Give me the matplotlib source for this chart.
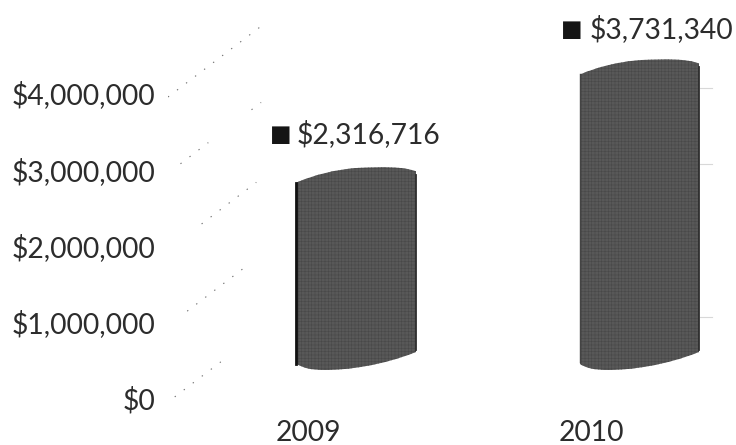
import matplotlib
matplotlib.use("Agg")
import matplotlib.pyplot as plt
from matplotlib.path import Path
from matplotlib.patches import PathPatch

years = ["2009", "2010"]
revenue = [2316716, 3731340]
y_ticks = [0, 1000000, 2000000, 3000000, 4000000]
y_labels = ["$0", "$1,000,000", "$2,000,000", "$3,000,000", "$4,000,000"]
value_labels = ["$2,316,716", "$3,731,340"]

W, H = 736, 445
AX_L, AX_B = 168, 398            # pixel position of the axes origin
PX_PER_UNIT_X = 283.0
PX_PER_M = 76.25

plt.rcParams["font.family"] = ["Lato", "DejaVu Sans"]
plt.rcParams["hatch.linewidth"] = 0.4
TEXT = "#2c2c2c"
FS = 20.3

fig = plt.figure(figsize=(W / 100, H / 100), dpi=100, facecolor="white")
ax = fig.add_axes([AX_L / W, (H - AX_B) / H, (W - AX_L) / W, AX_B / H])
ax.set_facecolor("none")
xmin = -140 / PX_PER_UNIT_X
ax.set_xlim(xmin, xmin + (W - AX_L) / PX_PER_UNIT_X)
ax.set_ylim(0, AX_B / PX_PER_M * 1e6)

dx = lambda px: px / PX_PER_UNIT_X
dy = lambda px: px / PX_PER_M * 1e6

# sparse remains of the receding gridlines, as fractions of each line
visible = {
    0: [(0.07, 0.55)],
    1: [(0.2, 0.78)],
    2: [(0.35, 0.92)],
    3: [(0.13, 0.42), (0.87, 0.97)],
    4: [(0.0, 1.0)],
}
for i, t in enumerate(y_ticks):
    x0 = xmin
    dep_x, dep_y = dx(96), dy(73)
    for a, b in visible[i]:
        ax.plot([x0 + a * dep_x, x0 + b * dep_x],
                [t - dy(4) + a * dep_y, t - dy(4) + b * dep_y],
                color="#707070", lw=0.8, ls=(0, (1.2, 9)), zorder=1)
    if i in (1, 3, 4):
        ax.plot([1 + dx(109), 1 + dx(121)], [t + dy(5)] * 2,
                color="#d8d8d8", lw=0.8, zorder=1)


def cylinder(cx, value):
    """Cylinder body: top follows the value, raised by the 3D depth."""
    top = value + dy(54)
    bot = dy(28)
    l, r = cx - dx(60), cx + dx(59)
    verts = [
        (l, bot + dy(6)),
        (l, top - dy(15)),
        (l + dx(16), top - dy(8)), (l + dx(38), top - dy(2)), (l + dx(62), top - dy(0.5)),
        (l + dx(85), top + dy(0.5)), (l + dx(106), top + dy(1)), (r, top - dy(4)),
        (r, bot + dy(18)),
        (r - dx(35), bot + dy(4)), (r - dx(70), bot), (l + dx(28), bot),
        (l + dx(14), bot), (l + dx(6), bot + dy(2)), (l, bot + dy(6)),
    ]
    codes = [Path.MOVETO, Path.LINETO,
             Path.CURVE4, Path.CURVE4, Path.CURVE4,
             Path.CURVE4, Path.CURVE4, Path.CURVE4,
             Path.LINETO,
             Path.CURVE4, Path.CURVE4, Path.CURVE4,
             Path.CURVE4, Path.CURVE4, Path.CURVE4]
    return Path(verts, codes), l, r, top, bot


for i, v in enumerate(revenue):
    cx = i + dx(49)
    path, l, r, top, bot = cylinder(cx, v)
    ax.add_patch(PathPatch(path, facecolor="#585858", edgecolor="#484848",
                           lw=0, hatch="+++++", zorder=3))
    ax.plot([r, r], [bot + dy(20), top - dy(8)], color="#2e2e2e", lw=1.3, zorder=5)
    if i == 0:
        ax.plot([l - dx(1.5)] * 2, [bot + dy(6), top - dy(16)], color="#111111",
                lw=2.0, zorder=5)
    else:
        ax.plot([l] * 2, [bot + dy(8), top - dy(15)], color="#444444",
                lw=1.0, zorder=5)
    square_x = -76 if i == 0 else -68
    text_x = -60 if i == 0 else -50
    offset_y = 33 if i == 0 else 30
    ax.annotate("■", xy=(cx, top), xytext=(square_x, offset_y),
                textcoords="offset pixels", ha="center", va="center",
                fontsize=16.5, color="#151515", family="DejaVu Sans", zorder=6)
    ax.annotate(value_labels[i], xy=(cx, top), xytext=(text_x, offset_y),
                textcoords="offset pixels", ha="left", va="center",
                fontsize=FS, color=TEXT, zorder=6)

ax.set_xticks(range(len(years)))
ax.set_xticklabels(years, fontsize=FS, color=TEXT)
ax.set_yticks(y_ticks)
ax.set_yticklabels(y_labels, fontsize=FS, color=TEXT)
ax.tick_params(axis="both", length=0)
ax.tick_params(axis="x", pad=16)
ax.tick_params(axis="y", pad=9)
for s in ax.spines.values():
    s.set_visible(False)

fig.savefig("out.png", dpi=100, facecolor="white")
